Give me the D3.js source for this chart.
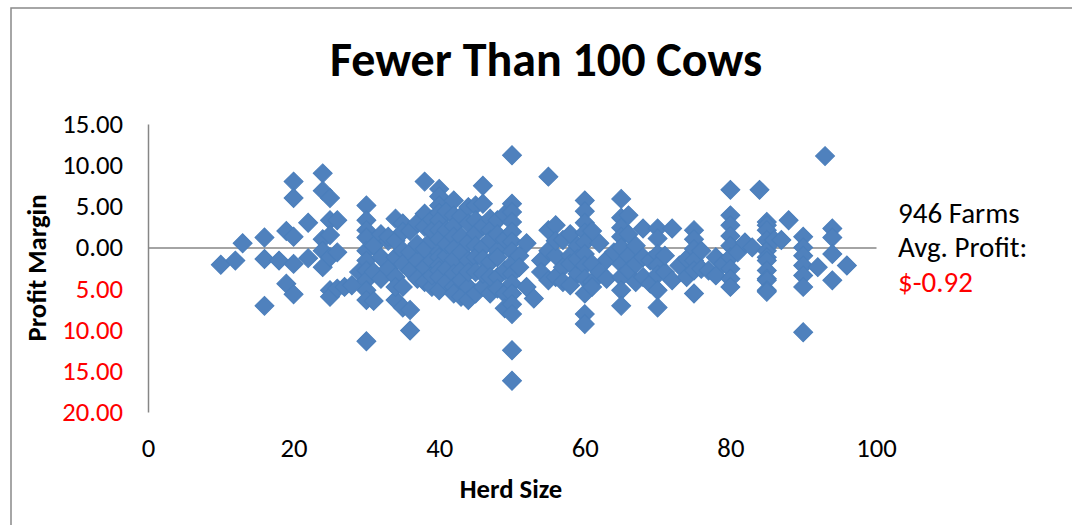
<!DOCTYPE html>
<html>
<head>
<meta charset="utf-8">
<script src="https://cdn.jsdelivr.net/npm/d3@7/dist/d3.min.js"></script>
<style>
  html, body { margin: 0; padding: 0; background: #fff; }
  svg { display: block; font-family: Carlito, Lato, "Open Sans", sans-serif; }
</style>
</head>
<body>
<svg id="chart" width="1072" height="525"></svg>
<script>
// Herd size (cows) and profit margin for each plotted farm, grouped by herd size
const herdSize = [
  10, 12, 13,
  16, 16, 16,
  18,
  19, 19,
  20, 20, 20, 20, 20,
  22, 22,
  24, 24, 24, 24, 24,
  25, 25, 25, 25, 25, 25,
  26, 26, 26,
  27, 28, 29,
  30, 30, 30, 30, 30, 30, 30, 30, 30, 30, 30,
  31, 31, 31,
  32, 32, 32,
  33, 33, 33,
  34, 34, 34, 34, 34, 34,
  35, 35, 35, 35, 35, 35,
  36, 36, 36, 36, 36,
  37, 37, 37, 37,
  38, 38, 38, 38, 38, 38,
  39, 39, 39, 39, 39, 39,
  40, 40, 40, 40, 40, 40, 40, 40, 40, 40, 40, 40, 40,
  41, 41, 41, 41, 41, 41,
  42, 42, 42, 42, 42, 42, 42, 42, 42,
  43, 43, 43, 43, 43, 43,
  44, 44, 44, 44, 44, 44, 44,
  45, 45, 45, 45, 45, 45, 45,
  46, 46, 46, 46, 46, 46, 46,
  47, 47, 47, 47, 47, 47,
  48, 48, 48, 48, 48, 48,
  49, 49, 49, 49, 49,
  50, 50, 50, 50, 50, 50, 50, 50, 50, 50, 50, 50, 50, 50, 50,
  51, 51,
  52, 52, 53,
  54, 54,
  55, 55, 55, 55,
  56, 56, 56, 56,
  57, 57, 57,
  58, 58, 58, 58,
  59, 59, 59,
  60, 60, 60, 60, 60, 60, 60, 60, 60, 60, 60,
  61, 61, 61, 61,
  62, 62, 63, 63, 64,
  65, 65, 65, 65, 65, 65, 65, 65, 65,
  66, 66, 66, 66,
  67, 67, 67,
  68, 68, 68,
  69, 69,
  70, 70, 70, 70, 70, 70, 70,
  71, 71, 72, 72, 73, 74, 74,
  75, 75, 75, 75, 75, 75,
  76, 76, 77, 78, 78, 79,
  80, 80, 80, 80, 80, 80, 80, 80, 80,
  81, 82, 83, 84,
  85, 85, 85, 85, 85, 85, 85, 85, 85, 85, 85, 85,
  86, 87, 88,
  90, 90, 90, 90, 90, 90, 90,
  92, 93,
  94, 94, 94, 94,
  96
];
const profitMargin = [
  -2.1, -1.6, 0.5,
  1.2, -1.4, -7.1,
  -1.6,
  2.0, -4.4,
  8.0, 6.0, 1.3, -2.0, -5.7,
  3.0, -1.3,
  9.0, 6.9, 1.0, -0.4, -2.4,
  6.0, 3.3, 1.5, -1.2, -5.2, -6.0,
  3.3, -0.6, -5.0,
  -4.8, -4.6, -3.0,
  5.1, 3.3, 2.1, 1.2, -0.4, -1.6, -2.8, -4.0, -5.2, -6.4, -11.4,
  -6.5, 0.2, -3.0,
  -1.2, -3.8, 1.6,
  0.8, 1.3, -2.6,
  3.5, -1.2, -3.6, -6.4, 0.8, -4.8,
  2.9, 1.9, -0.4, -2.0, -4.8, -7.3,
  -7.6, -10.1, 2.0, -0.6, -2.8,
  -1.6, 3.0, 0.4, -3.8,
  8.0, 4.1, 2.5, -0.2, -2.4, -4.2,
  0.9, -4.8, 3.4, 2.0, -1.6, -3.4,
  7.1, 6.2, 5.1, 4.2, 3.3, 2.1, 1.0, -0.6, -1.2, -2.2, -2.8, -3.6, -5.2,
  2.1, -1.0, 4.4, 0.4, -2.6, -4.2,
  5.7, 3.9, 2.6, 1.3, -0.2, -1.5, -3.2, -4.8, -5.6,
  1.3, -2.8, -6.0, 3.8, -0.6, -4.0,
  4.9, 2.9, -1.6, -4.8, -6.4, 0.6, -3.0,
  5.1, 3.3, 1.7, 0.2, -1.2, -3.0, -5.6,
  7.5, 5.3, -4.8, 2.6, 0.0, -1.4, -3.2,
  3.5, 2.1, 0.9, -5.6, -1.8, -3.6,
  3.3, -0.4, -1.2, -3.6, 1.6, -5.0,
  -2.8, -5.6, -7.4, 4.0, 1.0,
  11.2, 5.3, 4.3, 3.1, 1.9, 0.7, -0.5, -2.0, -3.2, -4.4, -5.6, -6.9, -8.1, -12.5, -16.2,
  -1.0, -2.4,
  0.5, -4.8, -6.2,
  -1.6, -3.0,
  8.6, 2.1, -0.4, -4.0,
  2.7, -3.6, -1.0, 0.8,
  0.9, -2.4, -4.2,
  -1.0, 1.6, -2.0, -4.6,
  -3.2, 0.2, -1.4,
  5.7, 4.4, 3.0, 1.8, 0.6, -0.8, -2.2, -3.8, -5.6, -8.1, -9.3,
  -4.2, -4.8, 2.0, -2.0,
  0.5, -3.0, -1.5, -3.8, -0.6,
  5.9, 3.6, 2.4, 1.3, 0.0, -2.0, -3.6, -5.2, -7.1,
  3.9, -1.0, -2.8, 1.6,
  -2.0, -4.2, 0.2,
  2.3, -1.2, -3.6,
  -1.6, -4.4,
  2.3, 1.1, -0.8, -2.2, -3.3, -5.2, -7.3,
  -3.0, -1.0, 2.3, -4.0, -2.2, -1.4, -3.6,
  2.1, 1.0, -0.2, -1.6, -2.8, -5.6,
  -2.6, -0.4, -2.8, -1.2, -3.4, -2.0,
  7.0, 3.9, 2.7, 1.4, 0.2, -1.2, -2.6, -3.8, -4.8,
  -0.6, 0.6, 0.0, 7.0,
  3.1, 2.7, 2.1, 0.9, -0.4, -1.2, -1.6, -2.8, -3.8, -4.0, -5.2, -5.4,
  0.9, 0.9, 3.3,
  1.3, 0.0, -1.0, -2.2, -3.4, -4.8, -10.3,
  -2.4, 11.1,
  2.3, 1.2, -0.8, -4.0,
  -2.2
];

const xTicks = [0, 20, 40, 60, 80, 100];
const yTicks = [15, 10, 5, 0, -5, -10, -15, -20];
const chartTitle = "Fewer Than 100 Cows";
const xTitle = "Herd Size";
const yTitle = "Profit Margin";
const farmCount = "946 Farms";
const avgLabel = "Avg. Profit:";
const avgProfit = "$-0.92";

const farms = herdSize.map((h, i) => ({ herd: h, profit: profitMargin[i] }));

const svg = d3.select("#chart");
const plot = { left: 148, right: 876, top: 124, bottom: 412 };

const x = d3.scaleLinear().domain([0, 100]).range([plot.left, plot.right]);
const y = d3.scaleLinear().domain([-20, 15]).range([plot.bottom, plot.top]);

// Chart area frame
svg.append("rect")
  .attr("x", 11).attr("y", 8)
  .attr("width", 1100).attr("height", 560)
  .attr("fill", "none")
  .attr("stroke", "#898989")
  .attr("stroke-width", 1.5);

// Title
svg.append("text")
  .attr("x", 546).attr("y", 76)
  .attr("text-anchor", "middle")
  .attr("font-size", 48)
  .attr("font-weight", "bold")
  .text(chartTitle);

// Vertical axis: line plus labels; negative values shown in red without a sign
const yAxis = d3.axisLeft(y)
  .tickValues(yTicks)
  .tickSize(0)
  .tickPadding(25)
  .tickFormat(d => Math.abs(d).toFixed(2));

const gy = svg.append("g")
  .attr("transform", `translate(${plot.left},0)`)
  .call(yAxis);
gy.select(".domain").attr("stroke", "#868686").attr("stroke-width", 1.5);
gy.selectAll(".tick text")
  .attr("font-size", 26.7)
  .attr("font-family", "Carlito, Lato, sans-serif")
  .attr("fill", d => d < 0 ? "#ff0000" : "#000");

// Horizontal axis crosses at zero; its labels sit below the plot area
const xAxis = d3.axisBottom(x)
  .tickValues(xTicks)
  .tickSize(0)
  .tickPadding(0)
  .tickFormat(d3.format("d"));

const gx = svg.append("g")
  .attr("transform", `translate(0,${y(0)})`)
  .call(xAxis);
gx.select(".domain").attr("stroke", "#868686").attr("stroke-width", 1.5);
gx.selectAll(".tick text")
  .attr("font-size", 26.7)
  .attr("font-family", "Carlito, Lato, sans-serif")
  .attr("fill", "#000")
  .attr("dy", null)
  .attr("y", plot.bottom - y(0) + 45);

// Axis titles
svg.append("text")
  .attr("x", x(50) - 1).attr("y", 498)
  .attr("text-anchor", "middle")
  .attr("font-size", 26.7)
  .attr("font-weight", "bold")
  .text(xTitle);

svg.append("text")
  .attr("transform", `translate(46,${y(-2.5)}) rotate(-90)`)
  .attr("text-anchor", "middle")
  .attr("font-size", 26.7)
  .attr("font-weight", "bold")
  .text(yTitle);

// Farm markers: diamonds
const diamond = d3.symbol().type(d3.symbolSquare).size(180);
svg.append("g")
  .selectAll("path")
  .data(farms)
  .join("path")
  .attr("d", diamond)
  .attr("transform", d => `translate(${x(d.herd)},${y(d.profit)}) rotate(45)`)
  .attr("fill", "#4f81bd")
  .attr("stroke", "#4a7ebb")
  .attr("stroke-width", 1);

// Summary annotation
const note = svg.append("text")
  .attr("x", 898)
  .attr("font-size", 29);
note.append("tspan").attr("x", 898).attr("y", 223).attr("fill", "#000").text(farmCount);
note.append("tspan").attr("x", 898).attr("y", 257).attr("fill", "#000").text(avgLabel);
note.append("tspan").attr("x", 898).attr("y", 292).attr("fill", "#ff0000").text(avgProfit);
</script>
</body>
</html>
